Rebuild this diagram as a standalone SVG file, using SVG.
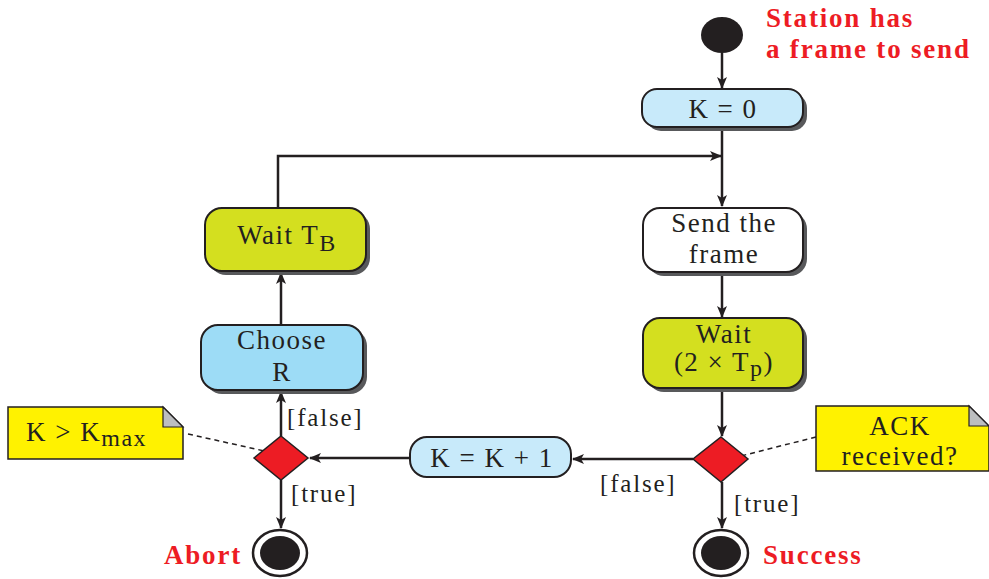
<svg xmlns="http://www.w3.org/2000/svg" width="989" height="579" viewBox="0 0 989 579">
<defs>
<marker id="ah" markerWidth="12" markerHeight="10" refX="11" refY="5" orient="auto" markerUnits="userSpaceOnUse">
<path d="M0,0 L12,5 L0,10 L3,5 Z" fill="#231f20"/>
</marker>
<style>
.t{font-family:"Liberation Serif","Times New Roman",serif;font-size:27px;letter-spacing:1.5px;fill:#231f20;text-anchor:middle}
.lab{font-family:"Liberation Serif","Times New Roman",serif;font-size:25px;letter-spacing:1.8px;fill:#231f20}
.red{font-family:"Liberation Serif","Times New Roman",serif;font-size:27px;letter-spacing:1.8px;font-weight:bold;fill:#ed1c24}
.box{stroke:#231f20;stroke-width:2}
.sh{fill:#58595b}
.ln{stroke:#231f20;stroke-width:2.5;fill:none}
.dash{stroke:#231f20;stroke-width:1.5;stroke-dasharray:5,4;fill:none}
.dia{fill:#ed1c24;stroke:#231f20;stroke-width:1.5}
.note{fill:#fff200;stroke:#231f20;stroke-width:1.5}
</style>
</defs>

<g id="connectors">
<line class="ln" x1="722" y1="53" x2="722" y2="88" marker-end="url(#ah)"/>
<line class="ln" x1="722" y1="128" x2="722" y2="206" marker-end="url(#ah)"/>
<polyline class="ln" points="278,208 278,156 721,156" marker-end="url(#ah)"/>
<line class="ln" x1="722" y1="272" x2="722" y2="317" marker-end="url(#ah)"/>
<line class="ln" x1="722" y1="389" x2="722" y2="436" marker-end="url(#ah)"/>
<line class="ln" x1="693" y1="459" x2="573" y2="459" marker-end="url(#ah)"/>
<line class="ln" x1="410" y1="458" x2="310" y2="458" marker-end="url(#ah)"/>
<line class="ln" x1="281" y1="436" x2="281" y2="392" marker-end="url(#ah)"/>
<line class="ln" x1="281" y1="325" x2="281" y2="273" marker-end="url(#ah)"/>
<line class="ln" x1="281" y1="480" x2="281" y2="528" marker-end="url(#ah)"/>
<line class="ln" x1="722" y1="482" x2="722" y2="528" marker-end="url(#ah)"/>
<line class="dash" x1="188" y1="434" x2="278" y2="454"/>
<line class="dash" x1="816" y1="437" x2="721" y2="461"/>
<text class="lab" x="287" y="426">[false]</text>
<text class="lab" x="291" y="502">[true]</text>
<text class="lab" x="600" y="492">[false]</text>
<text class="lab" x="734" y="512">[true]</text>
</g>

<g id="start">
<ellipse cx="722" cy="35" rx="21" ry="18" fill="#231f20"/>
<text class="red" x="766" y="27">Station has</text>
<text class="red" x="766" y="58">a frame to send</text>
</g>

<g id="k0">
<rect class="sh" x="646" y="93" width="161" height="38" rx="15"/>
<rect class="box" x="642" y="89" width="161" height="38" rx="15" fill="#c8eafa"/>
<text class="t" x="723" y="118">K = 0</text>
</g>

<g id="send">
<rect class="sh" x="647" y="212" width="160" height="64" rx="17"/>
<rect class="box" x="643" y="208" width="160" height="64" rx="17" fill="#ffffff"/>
<text class="t" x="724" y="232">Send the</text>
<text class="t" x="724" y="263">frame</text>
</g>

<g id="wait2tp">
<rect class="sh" x="647" y="322" width="160" height="70" rx="17"/>
<rect class="box" x="643" y="318" width="160" height="70" rx="17" fill="#d4df1f"/>
<text class="t" x="724" y="343">Wait</text>
<text class="t" x="724" y="371">(2 × T<tspan font-size="24" dy="5">p</tspan><tspan dy="-5">)</tspan></text>
</g>

<g id="waittb">
<rect class="sh" x="209" y="212" width="161" height="63" rx="17"/>
<rect class="box" x="205" y="208" width="161" height="63" rx="17" fill="#d4df1f"/>
<text class="t" x="287" y="244">Wait T<tspan font-size="24" dy="7">B</tspan></text>
</g>

<g id="chooser">
<rect class="sh" x="205" y="329" width="162" height="65" rx="17"/>
<rect class="box" x="201" y="325" width="162" height="65" rx="17" fill="#9ddcf6"/>
<text class="t" x="282" y="349">Choose</text>
<text class="t" x="282" y="381">R</text>
</g>

<g id="kinc">
<rect class="box" x="410" y="437" width="161" height="40" rx="17" fill="#c8eafa"/>
<text class="t" x="492" y="467">K = K + 1</text>
</g>

<g id="decision-left">
<polygon class="dia" points="281,436 308,458 281,480 254,458"/>
</g>

<g id="decision-right">
<polygon class="dia" points="721,437 748,459 721,482 693,459"/>
</g>

<g id="note-kmax">
<path class="note" d="M8,407 L163,407 L183,427 L183,459 L8,459 Z"/>
<path d="M163,407 L163,427 L183,427 Z" fill="#bcbec0" stroke="#231f20" stroke-width="1.2"/>
<text class="t" x="26" y="441" style="text-anchor:start">K &gt; K<tspan font-size="24" dy="5">max</tspan></text>
</g>

<g id="note-ack">
<path class="note" d="M816,406 L969,406 L989,426 L989,471 L816,471 Z"/>
<path d="M969,406 L969,426 L989,426 Z" fill="#bcbec0" stroke="#231f20" stroke-width="1.2"/>
<text class="t" x="900" y="435">ACK</text>
<text class="t" x="900" y="465">received?</text>
</g>

<g id="abort">
<ellipse cx="280" cy="553" rx="27" ry="23" fill="#ffffff" stroke="#231f20" stroke-width="2.5"/>
<ellipse cx="280" cy="553" rx="20" ry="17" fill="#231f20"/>
<text class="red" x="164" y="564">Abort</text>
</g>

<g id="success">
<ellipse cx="721" cy="553" rx="27" ry="23" fill="#ffffff" stroke="#231f20" stroke-width="2.5"/>
<ellipse cx="721" cy="553" rx="20" ry="17" fill="#231f20"/>
<text class="red" x="763" y="564">Success</text>
</g>
</svg>
